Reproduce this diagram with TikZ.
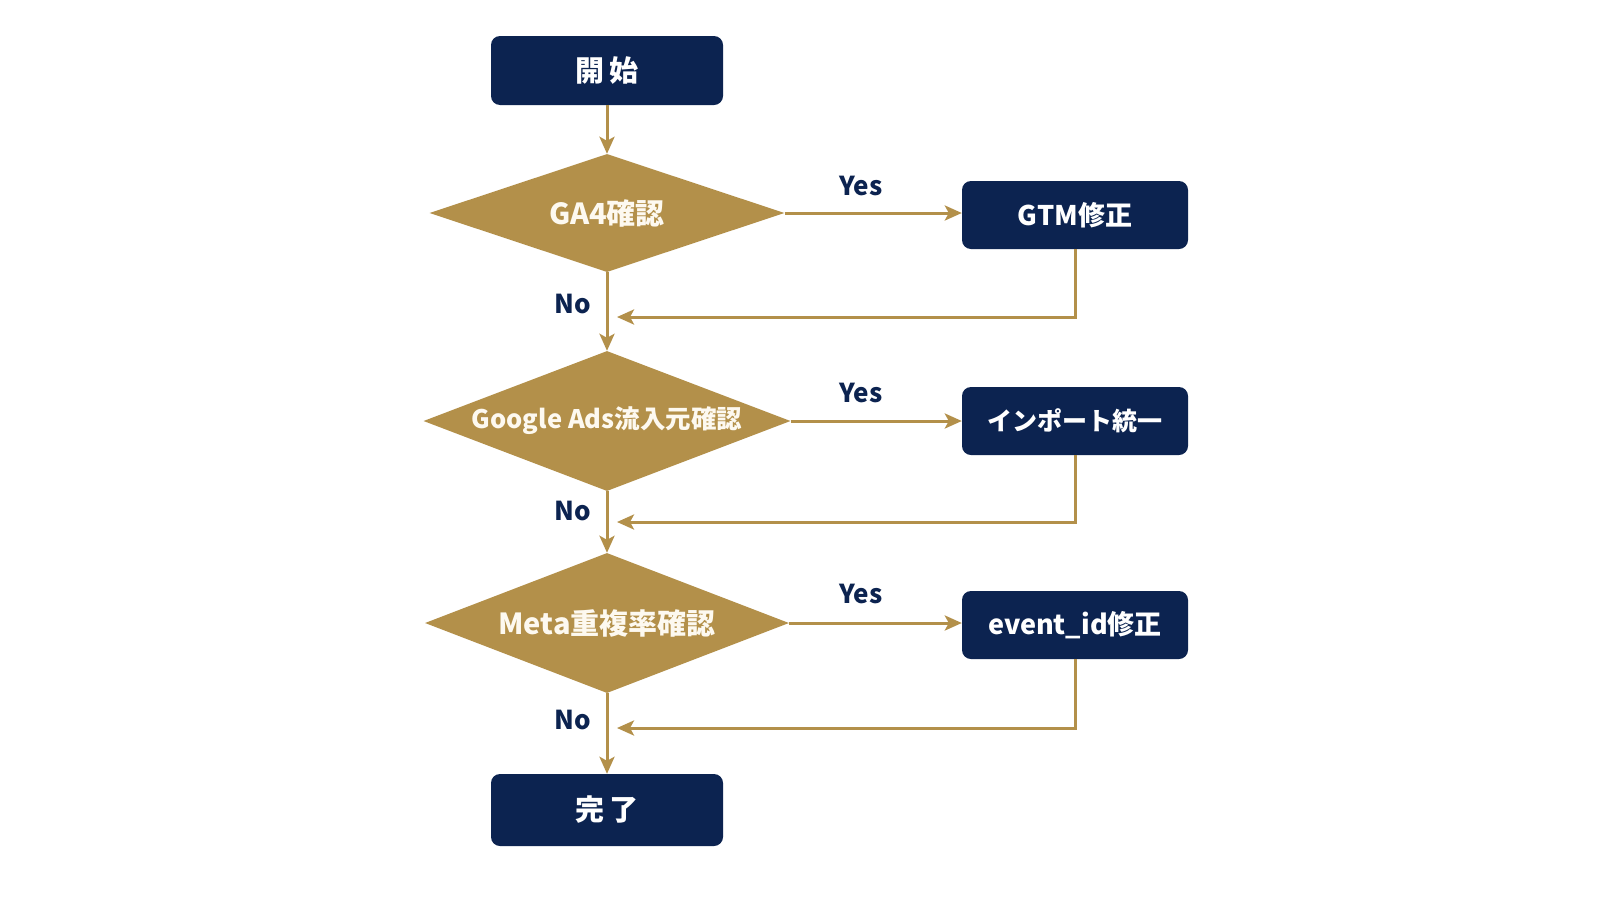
\documentclass[tikz,border=0pt]{standalone}
\usepackage{fontspec}
\setmainfont{Noto Sans CJK JP}
\usetikzlibrary{shapes.geometric,arrows.meta}
\definecolor{navy}{HTML}{0C2350}
\definecolor{gold}{HTML}{B3904A}
\definecolor{cream}{HTML}{FDF9F0}
\tikzset{
  procbox/.style={rectangle, rounded corners=9pt, fill=navy, text=white,
    font=\bfseries\fontsize{27}{30}\selectfont, inner sep=0pt},
  decbox/.style={diamond, fill=gold, text=cream, inner sep=0pt,
    font=\bfseries\fontsize{29}{32}\selectfont},
  conn/.style={draw=gold, line width=3pt,
    -{Stealth[length=17pt,width=15pt,inset=4pt]}},
  lbl/.style={text=navy, font=\bfseries\fontsize{26}{30}\selectfont, inner sep=0pt}
}
\begin{document}
\begin{tikzpicture}[x=1pt,y=-1pt]
\useasboundingbox[fill=white] (0,0) rectangle (1600,900);
\node[procbox, minimum width=232pt, minimum height=69pt, font=\bfseries\fontsize{29}{32}\selectfont] (start) at (607,70.5) {開\hspace{5pt}始};
\node[decbox, minimum width=355pt, minimum height=118pt] (d1) at (607,213) {\makebox[0pt]{GA4確認}};
\node[procbox, minimum width=226pt, minimum height=68pt] (gtm) at (1075,215) {GTM修正};
\node[decbox, minimum width=367pt, minimum height=140pt, font=\bfseries\fontsize{25.5}{30}\selectfont] (d2) at (607,421) {\makebox[0pt]{Google Ads流入元確認}};
\node[procbox, minimum width=226pt, minimum height=68pt, font=\bfseries\fontsize{25}{30}\selectfont] (imp) at (1075,421) {インポート統一};
\node[decbox, minimum width=364pt, minimum height=140pt] (d3) at (607,623) {\makebox[0pt]{Meta重複率確認}};
\node[procbox, minimum width=226pt, minimum height=68pt] (evt) at (1075,625) {event\_id修正};
\node[procbox, minimum width=232pt, minimum height=72pt, font=\bfseries\fontsize{29}{32}\selectfont] (end) at (607,810) {完\hspace{5pt}了};

\coordinate (j1) at (617,317);
\coordinate (j2) at (617,522);
\coordinate (j3) at (617,728);

\draw[conn] (start.south) -- (d1.north);
\draw[conn] (d1.east) -- (d1.east -| gtm.west);
\draw[conn] (gtm.south) |- (j1);
\draw[conn] (d1.south) -- (d2.north);
\draw[conn] (d2.east) -- (d2.east -| imp.west);
\draw[conn] (imp.south) |- (j2);
\draw[conn] (d2.south) -- (d3.north);
\draw[conn] (d3.east) -- (d3.east -| evt.west);
\draw[conn] (evt.south) |- (j3);
\draw[conn] (d3.south) -- (end.north);

\node[lbl] (y1) at (861,186) {Yes};
\node[lbl] (y2) at (861,393) {Yes};
\node[lbl] (y3) at (861,594) {Yes};
\node[lbl] (n1) at (573,304) {No};
\node[lbl] (n2) at (573,511) {No};
\node[lbl] (n3) at (573,720) {No};
\end{tikzpicture}
\end{document}
